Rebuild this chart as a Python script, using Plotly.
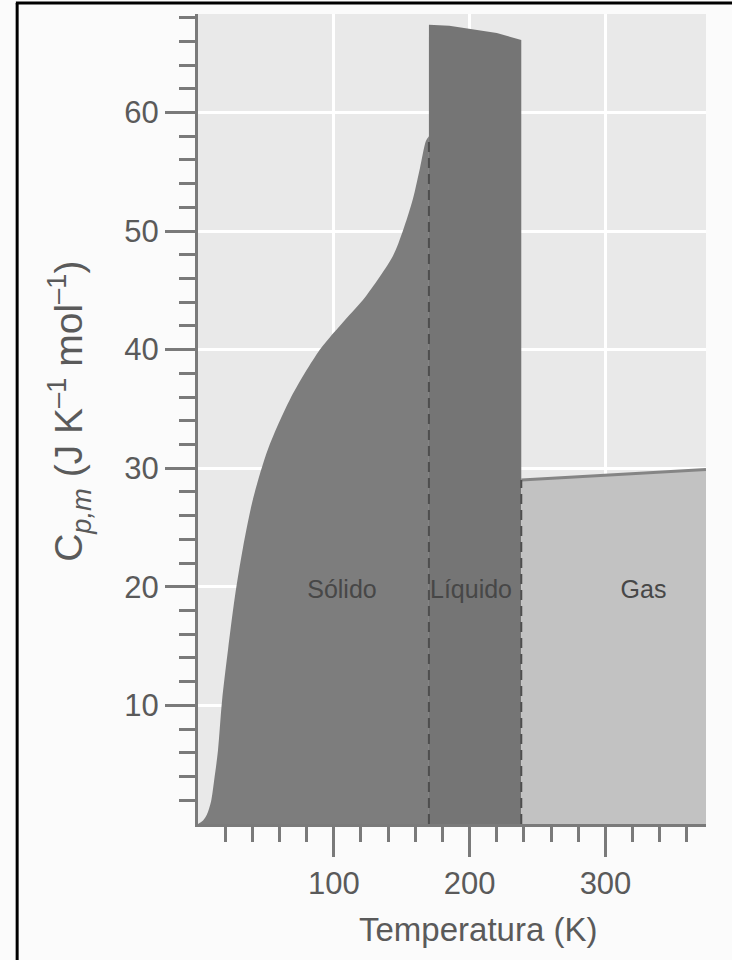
import plotly.graph_objects as go

# ---- data ----
solid_T = [0, 3.7, 6.6, 9.6, 11.8, 14.7, 17.7, 22.1, 27.2, 33.1, 40.5, 51.5, 67.7, 89.8, 108.2, 122.9, 143.5, 150.8, 158.2, 163.4, 167.8, 170]
solid_Cp = [0, 0.3, 0.8, 1.9, 3.6, 6.2, 10.4, 14.7, 19.2, 23.3, 27.4, 31.6, 35.8, 40.0, 42.5, 44.4, 47.9, 50.0, 52.7, 55.3, 57.6, 58.0]

T_fus = 170
T_vap = 238
liquid_T = [170, 185, 201, 220, 238]
liquid_Cp = [67.4, 67.3, 67.05, 66.7, 66.1]

gas_T = [238, 374]
gas_Cp = [29.0, 29.9]

x_ticks = [100, 200, 300]
y_ticks = [10, 20, 30, 40, 50, 60]
x_minor = [t for t in range(20, 374, 20) if t % 100 != 0]
y_minor = [c for c in range(2, 69, 2) if c % 10 != 0]

phase_labels = ["Sólido", "Líquido", "Gas"]
phase_T = [106, 201, 328]
phase_Cp = [19.6, 19.6, 19.6]

X_RANGE = [0, 374]
Y_RANGE = [0, 68.3]

AX = "#7a7a7a"
TXT = "#5a5a5a"
FONT = "Liberation Sans, Arial, Helvetica, sans-serif"

fig = go.Figure()

# solid region (curve filled down to zero)
fig.add_trace(go.Scatter(
    x=solid_T, y=solid_Cp,
    fill="tozeroy", fillcolor="#7d7d7d", mode="lines",
    line=dict(width=0, shape="spline", smoothing=0.8, color="#7d7d7d"),
    hoverinfo="skip", showlegend=False))

# liquid region
fig.add_trace(go.Scatter(
    x=[T_fus] + liquid_T + [T_vap, T_fus], y=[0] + liquid_Cp + [0, 0],
    fill="toself", fillcolor="#757575", mode="lines", line=dict(width=0),
    hoverinfo="skip", showlegend=False))

# gas region
fig.add_trace(go.Scatter(
    x=[gas_T[0]] + gas_T + [gas_T[-1], gas_T[0]], y=[0] + gas_Cp + [0, 0],
    fill="toself", fillcolor="#c2c2c2", mode="lines", line=dict(width=0),
    hoverinfo="skip", showlegend=False))

# gas top line
fig.add_trace(go.Scatter(
    x=gas_T, y=gas_Cp, mode="lines", line=dict(color="#858585", width=3),
    hoverinfo="skip", showlegend=False))

# dashed phase transitions
fig.add_trace(go.Scatter(
    x=[T_fus, T_fus], y=[0, solid_Cp[-1]], mode="lines",
    line=dict(color="#4e4e4e", width=2, dash="10px,6px"),
    hoverinfo="skip", showlegend=False))
fig.add_trace(go.Scatter(
    x=[T_vap, T_vap], y=[0, gas_Cp[0]], mode="lines",
    line=dict(color="#4e4e4e", width=2, dash="10px,6px"),
    hoverinfo="skip", showlegend=False))

# phase labels
fig.add_trace(go.Scatter(
    x=phase_T, y=phase_Cp, mode="text", text=phase_labels,
    textfont=dict(family=FONT, size=25, color="#474747"),
    hoverinfo="skip", showlegend=False))

axis_common = dict(
    showline=True, linecolor=AX, linewidth=3,
    ticks="outside", ticklen=30, tickwidth=3, tickcolor=AX,
    showgrid=True, gridcolor="white", gridwidth=3,
    zeroline=False, tickfont=dict(family=FONT, size=31, color=TXT),
)

fig.update_xaxes(range=X_RANGE, tickmode="array", tickvals=x_ticks,
                 minor=dict(tickmode="array", tickvals=x_minor, ticks="outside",
                            ticklen=15, tickwidth=3, tickcolor=AX, showgrid=False),
                 **axis_common)
fig.update_yaxes(range=Y_RANGE, tickmode="array", tickvals=y_ticks,
                 minor=dict(tickmode="array", tickvals=y_minor, ticks="outside",
                            ticklen=16, tickwidth=3, tickcolor=AX, showgrid=False),
                 **axis_common)

fig.update_layout(
    width=732, height=960,
    margin=dict(l=198, r=26, t=14, b=136),
    plot_bgcolor="#e9e9e9", paper_bgcolor="#fbfbfb",
    font=dict(family=FONT, color=TXT),
    annotations=[
        dict(text="C<sub><i>p,m</i></sub> (J K<sup>–1</sup> mol<sup>–1</sup>)",
             x=-0.254, y=0.51, xref="paper", yref="paper", textangle=-90,
             showarrow=False, xanchor="center", yanchor="middle",
             font=dict(family=FONT, size=39, color=TXT)),
        dict(text="Temperatura (K)", x=0.551, y=-0.130, xref="paper", yref="paper",
             showarrow=False, xanchor="center", yanchor="middle",
             font=dict(family=FONT, size=33, color=TXT)),
    ],
    shapes=[
        dict(type="line", xref="paper", yref="paper", x0=-0.356, x1=-0.356,
             y0=-0.3, y1=1.0136, line=dict(color="black", width=3)),
        dict(type="line", xref="paper", yref="paper", x0=-0.3585, x1=1.2,
             y0=1.0136, y1=1.0136, line=dict(color="black", width=3)),
    ],
)

fig.write_html("out.html")
